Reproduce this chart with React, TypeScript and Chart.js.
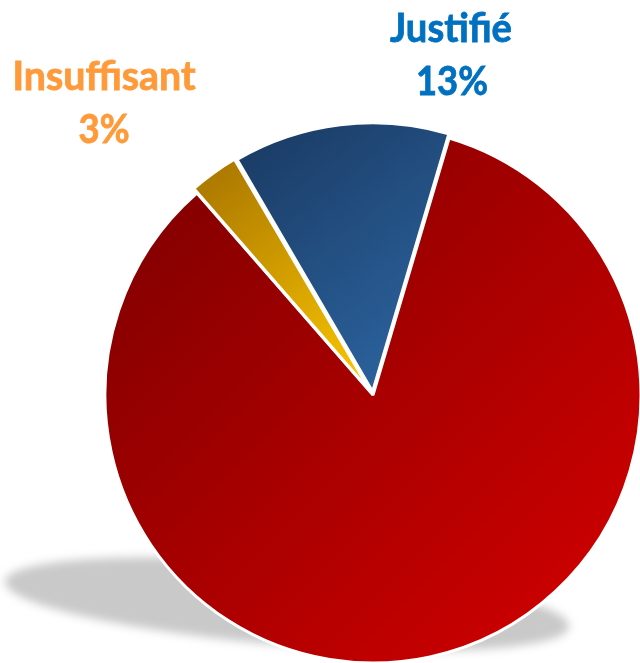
import React, { useEffect, useRef } from "react";
import { Chart, registerables } from "chart.js";

Chart.register(...registerables);

const categories = ["Non justifié", "Insuffisant", "Justifié"];
const shares = [84, 3, 13];
const labelTexts = ["", "Insuffisant", "Justifié"];
const percentTexts = ["", "3%", "13%"];

const W = 640;
const H = 663;

const shadowPlugin = {
  id: "shadowPlugin",
  beforeDatasetsDraw(chart: any) {
    const ctx = chart.ctx;
    ctx.save();
    ctx.filter = "blur(5px)";
    ctx.fillStyle = "#C9C9C9";
    ctx.beginPath();
    ctx.ellipse(287, 604, 283, 41, (4.6 * Math.PI) / 180, 0, Math.PI * 2);
    ctx.fill();
    ctx.restore();
  },
};

const labelPlugin = {
  id: "labelPlugin",
  afterDraw(chart: any) {
    const ctx = chart.ctx;
    const items = [
      { text: labelTexts[2], x: 451, y: 42, w: 122, color: "#0070C0" },
      { text: percentTexts[2], x: 452, y: 95, w: 72, color: "#0070C0" },
      { text: labelTexts[1], x: 104, y: 90, w: 183, color: "#FF9A3A" },
      { text: percentTexts[1], x: 104, y: 143, w: 51, color: "#FF9A3A" },
    ];
    ctx.save();
    ctx.font = "bold 40px Lato";
    ctx.textAlign = "center";
    ctx.textBaseline = "alphabetic";
    for (const it of items) {
      const m = ctx.measureText(it.text).width;
      const sx = m > 0 ? it.w / m : 1;
      ctx.save();
      ctx.translate(it.x, it.y);
      ctx.scale(sx, 1);
      ctx.fillStyle = it.color;
      ctx.strokeStyle = it.color;
      ctx.lineWidth = 0.8;
      ctx.fillText(it.text, 0, 0);
      ctx.strokeText(it.text, 0, 0);
      ctx.restore();
    }
    ctx.restore();
  },
};

function sliceFill(c: any) {
  const ctx = c.chart.ctx;
  const i = c.dataIndex;
  let g;
  if (i === 0) {
    g = ctx.createLinearGradient(105, 127, 641, 663);
    g.addColorStop(0, "#7A0000");
    g.addColorStop(1, "#D60000");
  } else if (i === 1) {
    g = ctx.createLinearGradient(200, 165, 360, 380);
    g.addColorStop(0, "#A87400");
    g.addColorStop(1, "#F8C400");
  } else {
    g = ctx.createLinearGradient(240, 115, 450, 385);
    g.addColorStop(0, "#193860");
    g.addColorStop(1, "#2D67A4");
  }
  return g;
}

export default function App() {
  const ref = useRef<HTMLCanvasElement | null>(null);
  useEffect(() => {
    document.body.style.margin = "0";
    const canvas = ref.current!;
    const chart = new Chart(canvas, {
      type: "pie",
      data: {
        labels: categories,
        datasets: [
          {
            data: shares,
            backgroundColor: sliceFill as any,
            borderColor: "#FFFFFF",
            borderWidth: 3,
            offset: [0, 12, 13],
            clip: false as any,
          },
        ],
      },
      options: {
        responsive: false,
        animation: false,
        rotation: 16.5,
        radius: 268,
        layout: { padding: { left: 106, top: 127, right: 0, bottom: 0 } },
        plugins: {
          legend: { display: false },
          tooltip: { enabled: false },
        },
      } as any,
      plugins: [shadowPlugin, labelPlugin],
    });
    return () => chart.destroy();
  }, []);
  return (
    <div style={{ position: "absolute", left: 0, top: 0, width: W, height: H }}>
      <canvas ref={ref} width={W} height={H} style={{ width: W, height: H, display: "block" }} />
    </div>
  );
}
